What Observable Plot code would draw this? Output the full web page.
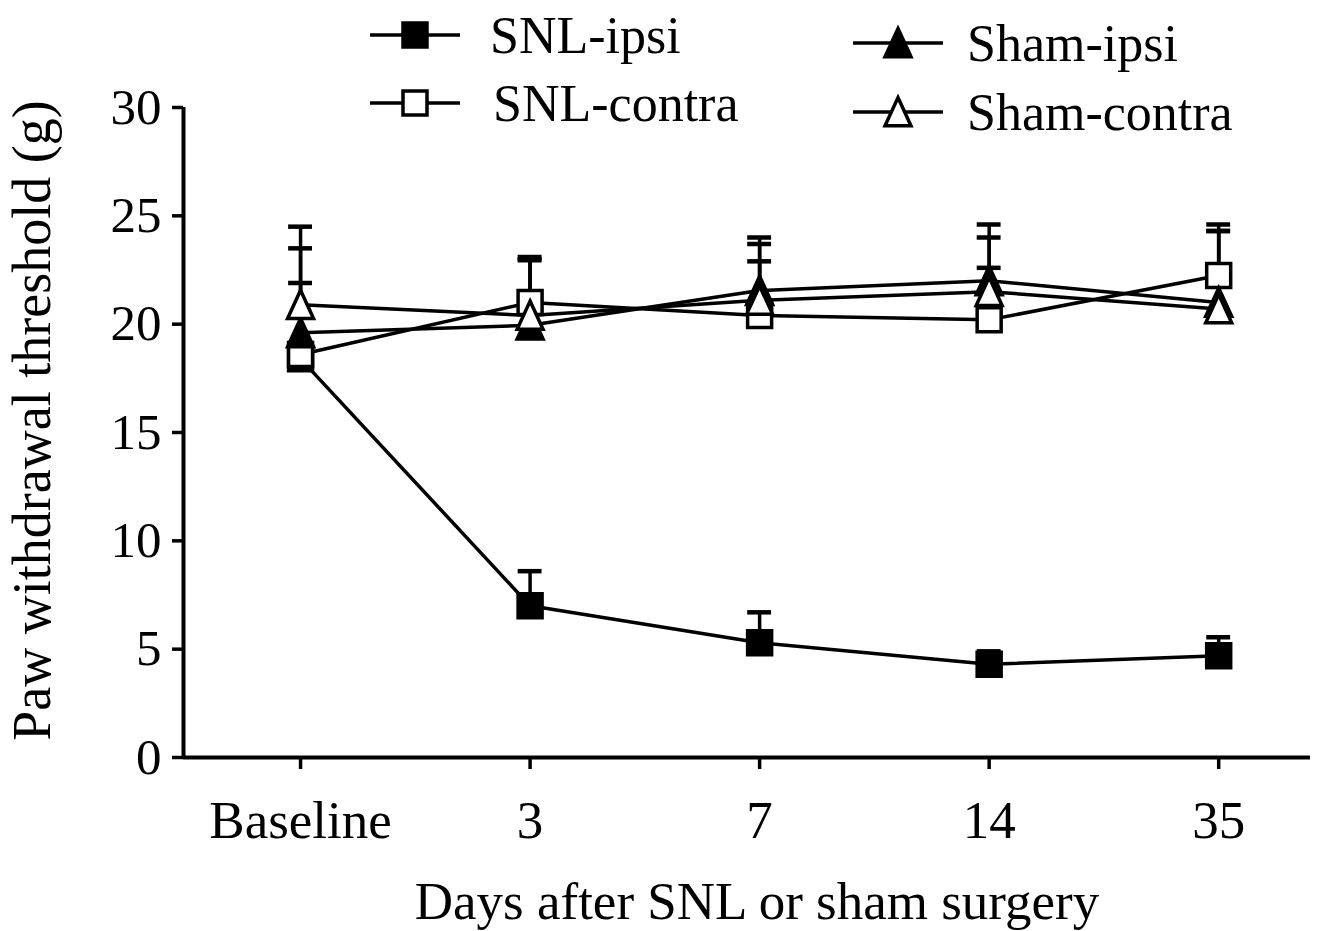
<!DOCTYPE html>
<html>
<head>
<meta charset="utf-8">
<script src="https://cdn.jsdelivr.net/npm/d3@7"></script>
<script src="https://cdn.jsdelivr.net/npm/@observablehq/plot@0.6"></script>
<style>
  body { margin: 0; background: #fff; }
  #wrap { position: relative; width: 1339px; height: 931px; }
  #legend { position: absolute; left: 0; top: 0; pointer-events: none; }
</style>
</head>
<body>
<div id="wrap"></div>
<script>
// ---- data ----
const timeLabels = ["Baseline", "3", "7", "14", "35"];
const seriesNames = ["SNL-ipsi", "SNL-contra", "Sham-ipsi", "Sham-contra"];

const snlIpsi      = [18.4, 7.0, 5.3, 4.3, 4.7];
const snlIpsiErr   = [0.4, 1.6, 1.4, 0.6, 0.85];
const snlContra    = [18.6, 21.0, 20.4, 20.2, 22.25];
const snlContraErr = [3.3, 2.1, 3.3, 2.4, 2.35];
const shamIpsi     = [19.6, 19.95, 21.55, 22.0, 21.0];
const shamIpsiErr  = [3.9, 3.0, 2.45, 2.6, 3.3];
const shamContra   = [20.9, 20.4, 21.1, 21.5, 20.7];
const shamContraErr= [3.6, 2.6, 1.8, 2.5, 3.6];

const yTicks = [0, 5, 10, 15, 20, 25, 30];
const xTitle = "Days after SNL or sham surgery";
const yTitle = "Paw withdrawal threshold (g)";

// ---- build table ----
const seriesValues = [snlIpsi, snlContra, shamIpsi, shamContra];
const seriesErrs = [snlIpsiErr, snlContraErr, shamIpsiErr, shamContraErr];
const rows = [];
seriesNames.forEach((s, k) => {
  timeLabels.forEach((t, i) => {
    rows.push({series: s, i, v: seriesValues[k][i], e: seriesErrs[k][i]});
  });
});

// ---- styles ----
const FONT = "'Liberation Serif', 'Times New Roman', Times, serif";
const squareSym = {draw(ctx, size) {
  const r = Math.sqrt(size / Math.PI);
  ctx.moveTo(-r, -r); ctx.lineTo(r, -r); ctx.lineTo(r, r); ctx.lineTo(-r, r); ctx.closePath();
}};
const triSym = {draw(ctx, size) {
  const r = Math.sqrt(size / Math.PI);
  ctx.moveTo(0, -1.2 * r); ctx.lineTo(1.08 * r, 1.15 * r); ctx.lineTo(-1.08 * r, 1.15 * r); ctx.closePath();
}};
const style = {
  "SNL-ipsi":   {symbol: squareSym, fill: "black"},
  "SNL-contra": {symbol: squareSym, fill: "white"},
  "Sham-ipsi":  {symbol: triSym, fill: "black"},
  "Sham-contra":{symbol: triSym, fill: "white"}
};
const R = 12;
const xDomain = [-0.51, 4.40];
const capHalf = 0.052;

const markerMarks = seriesNames.map(s =>
  Plot.dot(rows.filter(d => d.series === s), {
    x: "i", y: "v", r: R, symbol: style[s].symbol, fill: style[s].fill,
    stroke: "black", strokeWidth: 3.5
  })
);

const chart = Plot.plot({
  width: 1339,
  height: 931,
  marginTop: 107,
  marginBottom: 174,
  marginLeft: 183,
  marginRight: 29,
  style: {fontFamily: FONT, fontSize: "50px", background: "white", color: "black"},
  x: {type: "linear", domain: xDomain, axis: null},
  y: {domain: [0, 30], axis: null},
  marks: [
    Plot.axisY({ticks: yTicks, tickSize: 11, tickPadding: 11, fontSize: 51, strokeWidth: 3.5, label: null, tickFormat: d => String(d)}),
    Plot.axisX({ticks: timeLabels.map((t, i) => i), tickSize: 12, tickPadding: 31, fontSize: 53, strokeWidth: 3.5, label: null, tickFormat: i => timeLabels[i]}),
    Plot.ruleY([0], {strokeWidth: 4}),
    Plot.ruleX([xDomain[0]], {strokeWidth: 4}),
    Plot.text([yTitle], {text: d => d, frameAnchor: "left", textAnchor: "middle", lineAnchor: "middle", rotate: -90, dx: -151, dy: -12, fontSize: 54}),
    Plot.text([xTitle], {text: d => d, frameAnchor: "bottom", textAnchor: "middle", lineAnchor: "middle", dy: 145, dx: 10, fontSize: 53}),
    Plot.line(rows, {x: "i", y: "v", z: "series", stroke: "black", strokeWidth: 3.5}),
    Plot.ruleX(rows, {x: "i", y1: "v", y2: d => d.v + d.e, stroke: "black", strokeWidth: 3.5}),
    Plot.ruleY(rows, {y: d => d.v + d.e, x1: d => d.i - capHalf, x2: d => d.i + capHalf, stroke: "black", strokeWidth: 4.5}),
    ...markerMarks
  ]
});

const wrap = document.getElementById("wrap");
wrap.appendChild(chart);

// ---- legend (overlay above the chart) ----
const legendLayout = [
  {lx: 370, ly: 35, tx: 490},
  {lx: 370, ly: 103, tx: 493},
  {lx: 853, ly: 43, tx: 967},
  {lx: 853, ly: 112, tx: 967}
];
const leg = d3.create("svg").attr("id", "legend").attr("width", 1339).attr("height", 140);
seriesNames.forEach((s, k) => {
  const L = legendLayout[k];
  const g = leg.append("g");
  g.append("line").attr("x1", L.lx).attr("x2", L.lx + 90).attr("y1", L.ly).attr("y2", L.ly)
    .attr("stroke", "black").attr("stroke-width", 3.5);
  g.append("path").attr("d", d3.symbol().type(style[s].symbol).size(Math.PI * R * R)())
    .attr("transform", `translate(${L.lx + 45},${L.ly})`)
    .attr("fill", style[s].fill).attr("stroke", "black").attr("stroke-width", 3.5);
  g.append("text").attr("x", L.tx).attr("y", L.ly).attr("dy", "0.34em")
    .attr("font-family", FONT).attr("font-size", 52).attr("fill", "black").text(s);
});
wrap.appendChild(leg.node());
</script>
</body>
</html>
